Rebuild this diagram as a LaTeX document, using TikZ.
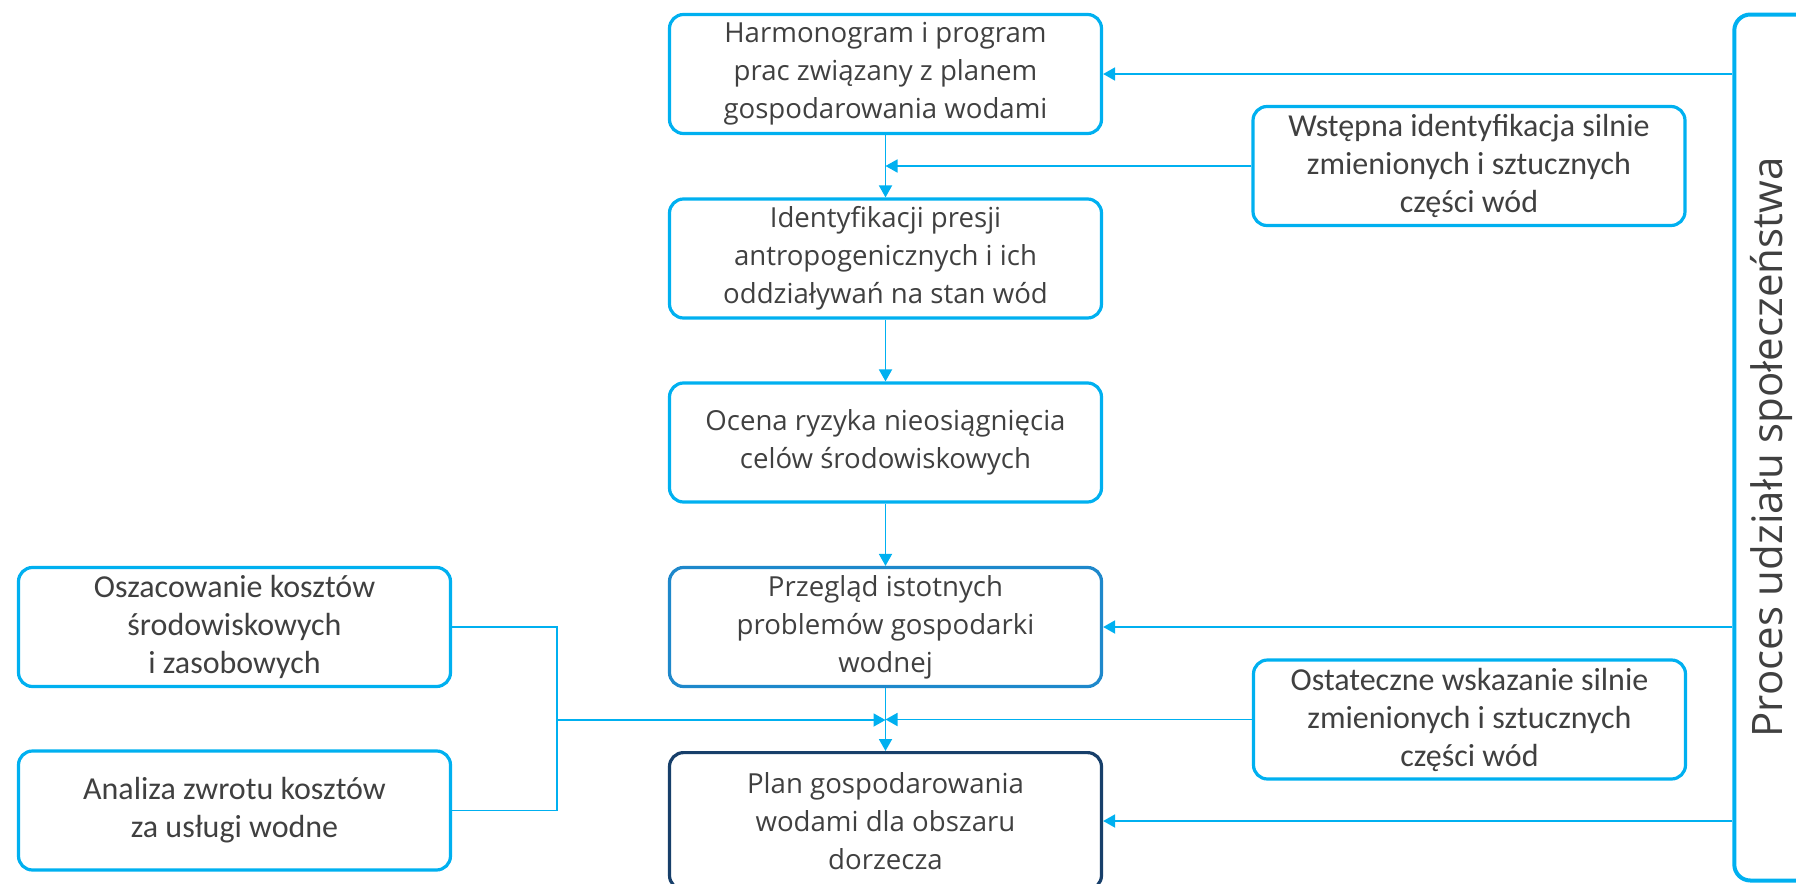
\documentclass[tikz,border=0pt]{standalone}
\usepackage{fontspec}
\setmainfont{Open Sans}
\newfontfamily\sidefont{Carlito}
\usetikzlibrary{arrows.meta}
\definecolor{niebieski}{HTML}{00B0F0}
\definecolor{sredni}{HTML}{1E88CB}
\definecolor{granat}{HTML}{173F6A}
\definecolor{tekst}{HTML}{404040}

\begin{document}
\begin{tikzpicture}[
x=0.5pt, y=-0.5pt,
etap/.style={
	draw=niebieski, line width=1.6pt, rounded corners=7pt,
	minimum width=216pt, minimum height=59.5pt,
	inner sep=2pt, align=center, text=tekst,
	font=\fontsize{13.8}{19}\selectfont
},
boczny/.style={
	etap, font=\sidefont\fontsize{16}{19}\selectfont
},
polacz/.style={draw=niebieski, line width=0.9pt},
>={Triangle[length=6pt,width=6.5pt]}
]
\useasboundingbox (0,0) rectangle (1796,884);
% main column
\node[etap] (harm) at (885.5,74) {Harmonogram i program\\prac związany z planem\\gospodarowania wodami};
\node[etap] (presja) at (885.5,258.5) {Identyfikacji presji\\antropogenicznych i ich\\oddziaływań na stan wód};
\node[etap] (ryzyko) at (885.5,442.5) {Ocena ryzyka nieosiągnięcia\\celów środowiskowych};
\node[etap,draw=sredni] (przeglad) at (885.5,627) {Przegląd istotnych\\problemów gospodarki\\wodnej};
\node[etap,draw=granat,minimum height=68.4pt] (plan) at (885.5,821) {Plan gospodarowania\\wodami dla obszaru\\dorzecza};
% side boxes
\node[boczny] (wstepna) at (1469,166) {Wstępna identyfikacja silnie\\zmienionych i sztucznych\\części wód};
\node[boczny] (ostateczne) at (1469.5,719.5) {Ostateczne wskazanie silnie\\zmienionych i sztucznych\\części wód};
\node[boczny] (oszac) at (234.5,627) {Oszacowanie kosztów\\środowiskowych\\i zasobowych};
\node[boczny] (analiza) at (234.5,810.5) {Analiza zwrotu kosztów\\za usługi wodne};
% public participation
\node[draw=niebieski,line width=2pt,rounded corners=8pt,minimum width=47.7pt,minimum height=433pt] (proces) at (1782,447.5) {};
\node[rotate=90,anchor=base,inner sep=0pt,text=tekst,font=\fontsize{21}{25}\selectfont] (procesopis) at (1782,447.5) {Proces udziału społeczeństwa};

\draw[polacz,->] (harm) -- (presja);
\draw[polacz,->] (presja) -- (ryzyko);
\draw[polacz,->] (ryzyko) -- (przeglad);
\draw[polacz,->] (przeglad) -- (plan);
\draw[polacz,->] (wstepna.west) -- (wstepna.west -| harm.south);
\draw[polacz,->] (ostateczne.west) -- (ostateczne.west -| plan.north);
\coordinate (rozgal) at (557,720);
\draw[polacz] (oszac.east) -| (rozgal) |- (analiza.east);
\draw[polacz,->] (rozgal) -- (rozgal -| plan.north);
\foreach \n in {harm,przeglad,plan}
{
	\draw[polacz,->] (proces.west |- \n.east) -- (\n.east);
}
\end{tikzpicture}
\end{document}
